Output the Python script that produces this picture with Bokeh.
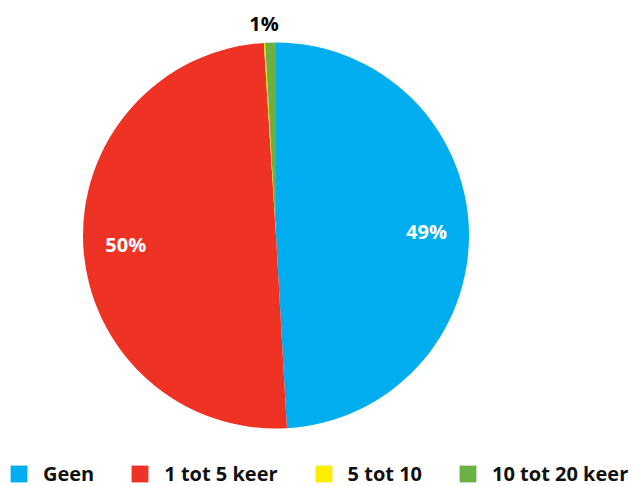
import numpy as np
from bokeh.plotting import figure
from bokeh.models import ColumnDataSource, Range1d, Legend, LegendItem
from bokeh.core.properties import value
from bokeh.embed import file_html
from bokeh.resources import INLINE

# ---- data ----
categories = ["Geen", "1 tot 5 keer", "5 tot 10", "10 tot 20 keer"]
shares = [49.1, 49.9, 0.1, 0.9]
colors = ["#00AEEF", "#EE3224", "#FFED00", "#6AB042"]

# ---- layout (page pixel coordinates, y measured up from page bottom) ----
W, H = 633, 486
cx, cy, R = 275.5, H - 235, 193

vals = np.array(shares, dtype=float)
frac = vals / vals.sum()
cum = np.concatenate([[0], np.cumsum(frac)])
start = np.pi / 2 - cum[:-1] * 2 * np.pi
end = np.pi / 2 - cum[1:] * 2 * np.pi
mid = (start + end) / 2

src = ColumnDataSource(dict(cat=categories, start=start, end=end, color=colors))

p = figure(width=W, height=H, x_range=Range1d(0, W), y_range=Range1d(0, H),
           output_backend="svg", toolbar_location=None, min_border=0)
p.axis.visible = False
p.grid.visible = False
p.outline_line_color = None

r = p.wedge(x=cx, y=cy, radius=R, radius_units="screen", start_angle="start",
            end_angle="end", direction="clock", fill_color="color", line_color=None,
            source=src)

# percentage labels
lx, ly, lt, lc = [], [], [], []
for f, v, m in zip(frac, vals, mid):
    if round(v) == 0:
        continue
    if f >= 0.05:
        px, py = cx + 0.78 * R * np.cos(m), cy + 0.78 * R * np.sin(m)
    else:
        px, py = cx + 1.1 * R * np.cos(m) - 6, cy + 1.1 * R * np.sin(m)
    lx.append(px)
    ly.append(py)
    lt.append(f"{round(v)}%")
    lc.append("white" if f >= 0.05 else "black")
p.text(x=lx, y=ly, text=lt, text_color=lc, text_font=value("Open Sans"),
       text_font_style="bold", text_font_size="20px", text_align="center",
       text_baseline="middle")

legend = Legend(items=[LegendItem(label=c, renderers=[r], index=i)
                       for i, c in enumerate(categories)],
                orientation="horizontal")
legend.location = (8, -1)
legend.margin = 0
legend.padding = 0
legend.spacing = 35
legend.glyph_width = 21
legend.glyph_height = 21
legend.label_height = 21
legend.label_standoff = 14
legend.label_text_font = "Open Sans"
legend.label_text_font_style = "bold"
legend.label_text_font_size = "20px"
legend.label_text_color = "#111111"
legend.border_line_color = None
legend.background_fill_alpha = 0
p.add_layout(legend)

open("out.html", "w").write(file_html(p, INLINE))
